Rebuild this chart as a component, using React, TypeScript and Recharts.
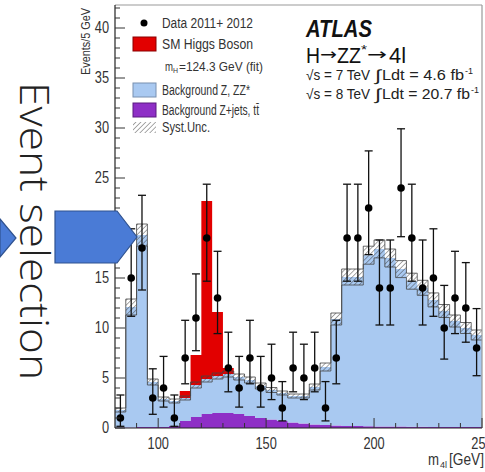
import React from 'react';
import { ComposedChart, Area, Scatter, ErrorBar, XAxis, YAxis, ReferenceLine } from 'recharts';

// 5 GeV bins (lower edges) from 80 to 250 GeV
const binLow = [80, 85, 90, 95, 100, 105, 110, 115, 120, 125, 130, 135, 140, 145, 150, 155, 160, 165, 170, 175, 180, 185, 190, 195, 200, 205, 210, 215, 220, 225, 230, 235, 240, 245];
const massMin = 80;
const massMax = 250;
const binWidth = 5;

// observed events per bin with asymmetric (Poisson) errors
const dataCounts = [1, 15, 18, 3, 4, 1, 7, 11, 19, 13, 6, 4, 7, 4, 5, 2, 6, 5, 6, 2, 7, 19, 19, 22, 14, 14, 24, 19, 14, 15, 10, 13, 12, 8];
const dataErrLow = [0.83, 3.83, 4.2, 1.63, 1.91, 0.83, 2.58, 3.27, 4.32, 3.56, 2.38, 1.91, 2.58, 1.91, 2.16, 1.29, 2.38, 2.16, 2.38, 1.29, 2.58, 4.32, 4.32, 4.66, 3.7, 3.7, 4.87, 4.32, 3.7, 3.83, 3.11, 3.56, 3.42, 2.77];
const dataErrHigh = [2.3, 4.92, 5.27, 2.92, 3.16, 2.3, 3.77, 4.41, 5.38, 4.67, 3.58, 3.16, 3.77, 3.16, 3.38, 2.64, 3.58, 3.38, 3.58, 2.64, 3.77, 5.38, 5.38, 5.71, 4.8, 4.8, 5.92, 5.38, 4.8, 4.92, 4.26, 4.67, 4.54, 3.94];

// stacked expectation
const bkgZjets = [0.05, 0.05, 0.1, 0.1, 0.1, 0.2, 0.7, 1.1, 1.4, 1.5, 1.5, 1.4, 1.2, 1.0, 0.85, 0.7, 0.55, 0.45, 0.35, 0.3, 0.25, 0.2, 0.2, 0.18, 0.16, 0.15, 0.14, 0.13, 0.12, 0.11, 0.1, 0.1, 0.1, 0.1];
const bkgZZ = [1.75, 12.05, 19.2, 4.5, 2.8, 2.5, 2.3, 3.2, 3.5, 3.7, 3.9, 3.7, 3.6, 3.2, 2.95, 2.8, 2.65, 2.75, 3.75, 5.8, 10.65, 14.9, 14.9, 17.1, 17.75, 16.85, 15.75, 14.55, 13.9, 12.7, 11.6, 10.6, 9.9, 9.2];
const sigHiggs = [0, 0, 0, 0, 0, 0, 0.7, 3.0, 17.8, 6.4, 0.6, 0, 0, 0, 0, 0, 0, 0, 0, 0, 0, 0, 0, 0, 0, 0, 0, 0, 0, 0, 0, 0, 0, 0];
const systUnc = [0.2, 0.8, 1.1, 0.3, 0.2, 0.2, 0.2, 0.3, 0.3, 0.3, 0.3, 0.3, 0.3, 0.3, 0.25, 0.2, 0.2, 0.2, 0.3, 0.4, 0.6, 0.8, 0.8, 0.9, 0.9, 0.9, 0.85, 0.8, 0.75, 0.7, 0.65, 0.6, 0.55, 0.5];

const yMax = 42.3;
const yMajorTicks = [0, 5, 10, 15, 20, 25, 30, 35, 40];
const yAllTicks = [0, 1, 2, 3, 4, 5, 6, 7, 8, 9, 10, 11, 12, 13, 14, 15, 16, 17, 18, 19, 20, 21, 22, 23, 24, 25, 26, 27, 28, 29, 30, 31, 32, 33, 34, 35, 36, 37, 38, 39, 40, 41, 42];
const xMajorTicks = [100, 150, 200, 250];
const xAllTicks = [90, 100, 110, 120, 130, 140, 150, 160, 170, 180, 190, 200, 210, 220, 230, 240, 250];

const COLORS = {
  zjets: '#8e2fc6',
  zz: '#a9c9f1',
  higgs: '#e20000',
  arrow: '#4a7bd6',
  arrowEdge: '#2f528f',
};

const FONT = "'Liberation Sans', Arial, sans-serif";
const W = 485;
const H = 472;
const MARGIN = { top: 5, right: 3, bottom: 0, left: 0 };

// histogram rows for step areas; last edge repeats the final bin
const histRows = binLow.map((x, i) => {
  const total = bkgZjets[i] + bkgZZ[i];
  return { x, zjets: bkgZjets[i], zz: bkgZZ[i], higgs: sigHiggs[i], band: [total - systUnc[i], total + systUnc[i]] };
});
histRows.push({ ...histRows[histRows.length - 1], x: massMax });

const points = binLow.map((x, i) => ({
  x: x + binWidth / 2,
  y: dataCounts[i],
  err: [dataErrLow[i], dataErrHigh[i]],
}));

// condensed Helvetica-like label
const Narrow = ({ x, y, size, anchor = 'start', children, fill = '#333' }: any) => (
  <text transform={`translate(${x},${y}) scale(0.8,1)`} textAnchor={anchor} fontFamily={FONT} fontSize={size} fill={fill}>
    {children}
  </text>
);

const YTick = (props: any) => {
  const { x, y, payload } = props;
  const v = payload.value;
  const major = yMajorTicks.includes(v);
  const ax = x + 6;
  return (
    <g>
      <line x1={ax} x2={ax + (major ? 10 : 5)} y1={y} y2={y} stroke="#333" strokeWidth={1} />
      {major && <Narrow x={x} y={y + 5} size={16} anchor="end">{v}</Narrow>}
    </g>
  );
};

const XTick = (props: any) => {
  const { x, y, payload } = props;
  const v = payload.value;
  const major = xMajorTicks.includes(v);
  const ay = y - 8;
  return (
    <g>
      <line x1={x} x2={x} y1={ay} y2={ay - (major ? 10 : 5)} stroke="#333" strokeWidth={1} />
      {major && <Narrow x={x} y={ay + 21} size={16} anchor="middle">{v}</Narrow>}
    </g>
  );
};

const DataDot = (props: any) => <circle cx={props.cx} cy={props.cy} r={3.8} fill="#000" />;

// text squeezed to a given width
const Fit = ({ x, y, w, size, children, weight, italic, fill = '#333', family = FONT }: any) => (
  <text
    x={x}
    y={y}
    textLength={w}
    lengthAdjust="spacingAndGlyphs"
    fontFamily={family}
    fontSize={size}
    fontWeight={weight}
    fontStyle={italic ? 'italic' : undefined}
    fill={fill}
  >
    {children}
  </text>
);

const legendRows = [
  { kind: 'dot', label: 'Data 2011+ 2012', y: 23, w: 91 },
  { kind: 'box', label: 'SM Higgs Boson', y: 44, w: 91, fill: COLORS.higgs, edge: '#8a0000' },
  { kind: 'box', label: 'Background Z, ZZ*', y: 90, w: 88, fill: COLORS.zz, edge: '#7890b0' },
  { kind: 'box', label: 'Background Z+jets, tt\u0304', y: 110, w: 97, fill: COLORS.zjets, edge: '#5a1a80' },
  { kind: 'hatch', label: 'Syst.Unc.', y: 127, w: 48 },
];

const Overlay = () => (
  <svg width={W} height={H} style={{ position: 'absolute', left: 0, top: 0, pointerEvents: 'none' }}>
    <defs>
      <pattern id="hatchLegend" width="3.5" height="3.5" patternUnits="userSpaceOnUse" patternTransform="rotate(45)">
        <line x1="0" y1="0" x2="0" y2="3.5" stroke="#555" strokeWidth="1" />
      </pattern>
    </defs>

    {/* slide arrows */}
    <polygon points="0,219 16,238 0,257" fill={COLORS.arrow} stroke={COLORS.arrowEdge} strokeWidth={1.2} />
    <polygon points="55,211 117,211 137,237 117,263 55,263" fill={COLORS.arrow} stroke={COLORS.arrowEdge} strokeWidth={1.2} />
    <text
      transform="translate(20, 82) rotate(90)"
      textLength={298}
      lengthAdjust="spacingAndGlyphs"
      fontFamily="'Open Sans', 'DejaVu Sans', sans-serif"
      fontWeight={300}
      fontSize={41}
      fill="#222"
    >
      Event selection
    </text>

    {/* axis titles */}
    <text
      transform="translate(90, 75) rotate(-90)"
      textLength={67}
      lengthAdjust="spacingAndGlyphs"
      fontFamily={FONT}
      fontSize={13.5}
      fill="#333"
    >
      Events/5 GeV
    </text>
    <Fit x={428} y={465} w={11} size={16}>m</Fit>
    <Fit x={440} y={468} w={7} size={9}>4l</Fit>
    <Fit x={449} y={465} w={35} size={16}>[GeV]</Fit>

    {/* legend */}
    {legendRows.map((r) => (
      <g key={r.label}>
        {r.kind === 'dot' && <circle cx={144} cy={r.y} r={3.5} fill="#000" />}
        {r.kind === 'box' && <rect x={133} y={r.y - 7} width={23} height={14} fill={r.fill} stroke={r.edge} strokeWidth={1} />}
        {r.kind === 'hatch' && <rect x={133} y={r.y - 5} width={23} height={11} fill="url(#hatchLegend)" />}
        <Fit x={162} y={r.y + 5} w={r.w} size={14}>{r.label}</Fit>
      </g>
    ))}
    <Fit x={165} y={71} w={8} size={13}>m</Fit>
    <Fit x={173} y={73} w={5} size={8}>H</Fit>
    <Fit x={179} y={71} w={84} size={13}>=124.3 GeV (fit)</Fit>

    {/* experiment label */}
    <Fit x={306} y={37} w={66} size={24} weight="bold" italic fill="#111">ATLAS</Fit>
    <Fit x={306} y={63} w={14} size={22} fill="#111">H</Fit>
    <Fit x={320} y={60} w={17} size={16} fill="#111" family="'DejaVu Sans', sans-serif">→</Fit>
    <Fit x={337} y={63} w={24} size={22} fill="#111">ZZ</Fit>
    <Fit x={361} y={54} w={6} size={12} fill="#111">*</Fit>
    <Fit x={367} y={60} w={20} size={16} fill="#111" family="'DejaVu Sans', sans-serif">→</Fit>
    <Fit x={389} y={63} w={17} size={22} fill="#111">4l</Fit>

    <Fit x={306} y={80} w={64} size={14} fill="#222">√s = 7 TeV</Fit>
    <Fit x={375} y={81} w={6} size={16} fill="#222">∫</Fit>
    <Fit x={382} y={80} w={82} size={14} fill="#222">Ldt = 4.6 fb</Fit>
    <Fit x={465} y={74} w={8} size={9} fill="#222">-1</Fit>
    <Fit x={306} y={99} w={64} size={14} fill="#222">√s = 8 TeV</Fit>
    <Fit x={375} y={100} w={6} size={16} fill="#222">∫</Fit>
    <Fit x={382} y={99} w={88} size={14} fill="#222">Ldt = 20.7 fb</Fit>
    <Fit x={471} y={93} w={8} size={9} fill="#222">-1</Fit>
  </svg>
);

// axes with inward ticks, drawn above the filled histograms
const AxisLayer = () => (
  <div style={{ position: 'absolute', left: 0, top: 0 }}>
    <ComposedChart width={W} height={H} data={histRows} margin={MARGIN}>
      <XAxis
        dataKey="x"
        type="number"
        domain={[massMin, massMax]}
        ticks={xAllTicks}
        interval={0}
        height={44}
        tickLine={false}
        tickSize={0}
        tickMargin={8}
        tick={<XTick />}
        axisLine={{ stroke: '#222', strokeWidth: 1.2 }}
        allowDataOverflow
      />
      <YAxis
        type="number"
        domain={[0, yMax]}
        ticks={yAllTicks}
        interval={0}
        width={115}
        tickLine={false}
        tickSize={0}
        tickMargin={6}
        tick={<YTick />}
        axisLine={{ stroke: '#222', strokeWidth: 1.2 }}
        allowDataOverflow
      />
      <ReferenceLine y={yMax} stroke="#999" strokeWidth={1.2} />
      <ReferenceLine x={massMax} stroke="#999" strokeWidth={1.2} />
    </ComposedChart>
  </div>
);

export default function App() {
  return (
    <div style={{ position: 'absolute', left: 0, top: 0, width: W, height: H, background: '#fff', overflow: 'hidden' }}>
      <ComposedChart width={W} height={H} data={histRows} margin={MARGIN}>
        <defs>
          <pattern id="hatchBand" width="3.5" height="3.5" patternUnits="userSpaceOnUse" patternTransform="rotate(45)">
            <line x1="0" y1="0" x2="0" y2="3.5" stroke="#3a3a3a" strokeWidth="0.9" />
          </pattern>
        </defs>
        <XAxis dataKey="x" type="number" domain={[massMin, massMax]} height={44} tick={false} axisLine={false} tickLine={false} allowDataOverflow />
        <YAxis type="number" domain={[0, yMax]} width={115} tick={false} axisLine={false} tickLine={false} allowDataOverflow />
        <Area dataKey="zjets" stackId="exp" type="stepAfter" fill={COLORS.zjets} fillOpacity={1} stroke="none" isAnimationActive={false} />
        <Area dataKey="zz" stackId="exp" type="stepAfter" fill={COLORS.zz} fillOpacity={1} stroke="none" isAnimationActive={false} />
        <Area dataKey="higgs" stackId="exp" type="stepAfter" fill={COLORS.higgs} fillOpacity={1} stroke="none" isAnimationActive={false} />
        <Area dataKey="band" type="stepAfter" fill="url(#hatchBand)" fillOpacity={1} stroke="#444" strokeWidth={0.8} isAnimationActive={false} />
        <Scatter data={points} dataKey="y" shape={<DataDot />} isAnimationActive={false}>
          <ErrorBar dataKey="err" direction="y" width={4} stroke="#111" strokeWidth={1.3} />
        </Scatter>
      </ComposedChart>
      <AxisLayer />
      <Overlay />
    </div>
  );
}
